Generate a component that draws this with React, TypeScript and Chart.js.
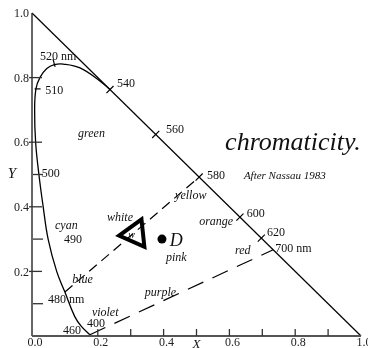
import { useEffect, useRef } from 'react';
import { Chart, registerables } from 'chart.js';
Chart.register(...registerables);

// Spectral locus, 400 nm -> 540 nm
const locusX = [0.176, 0.150, 0.130, 0.100, 0.075, 0.049, 0.034, 0.021, 0.011, 0.008, 0.012, 0.024, 0.045, 0.068, 0.095, 0.146, 0.207, 0.237];
const locusY = [0.004, 0.030, 0.060, 0.136, 0.200, 0.300, 0.400, 0.500, 0.600, 0.700, 0.765, 0.800, 0.828, 0.840, 0.842, 0.830, 0.789, 0.763];

const diagX = [0, 1];
const diagY = [1, 0];
const complementX = [0.100, 0.508];
const complementY = [0.136, 0.492];
const purpleX = [0.176, 0.733];
const purpleY = [0.004, 0.267];
const whitePoint = [0.313, 0.316];
const dPoint = [0.395, 0.300];

const xTicksMajor = [0.2, 0.4, 0.6, 0.8];
const xTicksMinor = [0.3, 0.5, 0.7, 0.9];
const xTickLabelValues = [0, 0.2, 0.4, 0.6, 0.8, 1.0];
const xTickLabels = ['0.0', '0.2', '0.4', '0.6', '0.8', '1.0'];
const yTicksMajor = [0.2, 0.4, 0.6, 0.8];
const yTicksMinor = [0.1, 0.3, 0.5];
const yTickLabelValues = [0.2, 0.4, 0.6, 0.8, 1.0];
const yTickLabels = ['0.2', '0.4', '0.6', '0.8', '1.0'];

// wavelength tick marks on the locus
const wlTickX = [0.067, 0.017, 0.237, 0.376, 0.508, 0.632, 0.697];
const wlTickY = [0.845, 0.765, 0.763, 0.624, 0.492, 0.368, 0.303];
const wlTickAngle = [75, 0, -45, -45, -45, -45, -45];
const wlTickLen = [8, 6, 10, 10, 10, 10, 10];

// wavelength labels
const wlLabels = ['520 nm', '540', '560', '580', '600', '620', '700 nm', '510', '500', '490', '480 nm', '460', '400'];
const wlLabelX = [0.024, 0.258, 0.407, 0.532, 0.653, 0.714, 0.739, 0.040, 0.030, 0.097, 0.049, 0.094, 0.167];
const wlLabelY = [0.864, 0.780, 0.638, 0.495, 0.378, 0.319, 0.269, 0.759, 0.502, 0.297, 0.111, 0.015, 0.037];

// colour name labels
const colorLabels = ['cyan', 'green', 'yellow', 'white', 'orange', 'pink', 'red', 'blue', 'purple', 'violet'];
const colorLabelX = [0.070, 0.140, 0.435, 0.228, 0.508, 0.407, 0.617, 0.122, 0.343, 0.182];
const colorLabelY = [0.341, 0.625, 0.433, 0.365, 0.353, 0.241, 0.263, 0.173, 0.133, 0.071];

const titleText = 'chromaticity.';
const titlePos = [0.587, 0.598];
const creditText = 'After Nassau 1983';
const creditPos = [0.644, 0.495];
const wLabelPos = [0.303, 0.312];
const dLabelPos = [0.419, 0.297];

const SERIF = '"Liberation Serif", "DejaVu Serif", serif';

function pts(xs: number[], ys: number[]) {
  return xs.map((x, i) => ({ x, y: ys[i] }));
}

const overlay = {
  id: 'overlay',
  afterDatasetsDraw(chart: any) {
    const ctx = chart.ctx as CanvasRenderingContext2D;
    const xs = chart.scales.x;
    const ys = chart.scales.y;
    const px = (v: number) => xs.getPixelForValue(v);
    const py = (v: number) => ys.getPixelForValue(v);
    ctx.save();
    // axes
    ctx.strokeStyle = '#333';
    ctx.lineWidth = 1.5;
    ctx.beginPath();
    ctx.moveTo(px(0), py(0));
    ctx.lineTo(px(0), py(1));
    ctx.stroke();
    ctx.strokeStyle = '#555';
    ctx.lineWidth = 2;
    ctx.beginPath();
    ctx.moveTo(px(0), py(0));
    ctx.lineTo(px(1), py(0));
    ctx.stroke();
    // x ticks
    ctx.strokeStyle = '#333';
    ctx.lineWidth = 1.3;
    [...xTicksMajor, ...xTicksMinor].forEach((v) => {
      ctx.beginPath();
      ctx.moveTo(px(v), py(0));
      ctx.lineTo(px(v), py(0) - 7);
      ctx.stroke();
    });
    yTicksMajor.forEach((v) => {
      ctx.beginPath();
      ctx.moveTo(px(0) - 3, py(v));
      ctx.lineTo(px(0) + 10, py(v));
      ctx.stroke();
    });
    yTicksMinor.forEach((v) => {
      ctx.beginPath();
      ctx.moveTo(px(0) + 1, py(v));
      ctx.lineTo(px(0) + 11, py(v));
      ctx.stroke();
    });
    // tick labels
    ctx.fillStyle = '#222';
    ctx.font = `12px ${SERIF}`;
    ctx.textBaseline = 'middle';
    ctx.textAlign = 'center';
    xTickLabelValues.forEach((v, i) => {
      ctx.fillText(xTickLabels[i], px(v) + 3, py(0) + 7);
    });
    ctx.textAlign = 'right';
    yTickLabelValues.forEach((v, i) => {
      ctx.fillText(yTickLabels[i], px(0) - 3, py(v) + 1);
    });
    // axis titles
    ctx.font = `italic 15px ${SERIF}`;
    ctx.textAlign = 'center';
    ctx.fillStyle = '#111';
    ctx.fillText('Y', 12, py(0.5));
    ctx.font = `italic 13px ${SERIF}`;
    ctx.fillText('X', px(0.5), py(0) + 9);
    // wavelength ticks
    ctx.strokeStyle = '#000';
    ctx.lineWidth = 1.2;
    wlTickX.forEach((v, i) => {
      const cx = px(v);
      const cy = py(wlTickY[i]);
      const a = (wlTickAngle[i] * Math.PI) / 180;
      const h = wlTickLen[i] / 2;
      ctx.beginPath();
      ctx.moveTo(cx - Math.cos(a) * h, cy - Math.sin(a) * h);
      ctx.lineTo(cx + Math.cos(a) * h, cy + Math.sin(a) * h);
      ctx.stroke();
    });
    // wavelength labels
    ctx.fillStyle = '#111';
    ctx.font = `12px ${SERIF}`;
    ctx.textAlign = 'left';
    wlLabels.forEach((t, i) => ctx.fillText(t, px(wlLabelX[i]), py(wlLabelY[i])));
    // colour names
    ctx.font = `italic 12px ${SERIF}`;
    colorLabels.forEach((t, i) => ctx.fillText(t, px(colorLabelX[i]), py(colorLabelY[i])));
    // W and D
    ctx.textAlign = 'center';
    ctx.font = `italic 10px ${SERIF}`;
    ctx.fillText('w', px(wLabelPos[0]), py(wLabelPos[1]));
    ctx.textAlign = 'left';
    ctx.font = `italic 18px ${SERIF}`;
    ctx.fillText('D', px(dLabelPos[0]), py(dLabelPos[1]) + 1);
    // title and credit
    ctx.font = `italic 26px ${SERIF}`;
    ctx.fillText(titleText, px(titlePos[0]), py(titlePos[1]));
    ctx.font = `italic 11px ${SERIF}`;
    ctx.fillText(creditText, px(creditPos[0]), py(creditPos[1]));
    ctx.restore();
  },
};

export default function App() {
  const ref = useRef<HTMLCanvasElement>(null);
  useEffect(() => {
    if (!ref.current) return;
    const chart = new Chart(ref.current, {
      type: 'scatter',
      data: {
        datasets: [
          {
            data: [{ x: whitePoint[0], y: whitePoint[1] }],
            pointStyle: 'triangle',
            rotation: 264,
            pointRadius: 16,
            borderWidth: 4,
            borderColor: '#000',
            backgroundColor: 'rgba(255,255,255,0)',
            order: 1,
          } as any,
          {
            data: [{ x: dPoint[0], y: dPoint[1] }],
            pointStyle: 'circle',
            pointRadius: 4.5,
            borderWidth: 0,
            backgroundColor: '#000',
            order: 2,
          },
          {
            data: pts(locusX, locusY),
            showLine: true,
            tension: 0.4,
            borderColor: '#000',
            borderWidth: 1.3,
            pointRadius: 0,
            order: 3,
          },
          {
            data: pts(diagX, diagY),
            showLine: true,
            borderColor: '#000',
            borderWidth: 1.2,
            pointRadius: 0,
            order: 4,
          },
          {
            data: pts(complementX, complementY),
            showLine: true,
            borderColor: '#000',
            borderWidth: 1.2,
            borderDash: [10, 6],
            pointRadius: 0,
            order: 5,
          },
          {
            data: pts(purpleX, purpleY),
            showLine: true,
            borderColor: '#000',
            borderWidth: 1.2,
            borderDash: [17, 10],
            pointRadius: 0,
            order: 6,
          },
        ],
      },
      options: {
        responsive: false,
        animation: false,
        clip: false as any,
        layout: { autoPadding: false, padding: { left: 32, right: 7, top: 13, bottom: 12 } } as any,
        plugins: { legend: { display: false }, tooltip: { enabled: false } },
        scales: {
          x: { type: 'linear', min: 0, max: 1, display: false },
          y: { type: 'linear', min: 0, max: 1, display: false },
        },
      },
      plugins: [overlay],
    });
    return () => chart.destroy();
  }, []);
  return (
    <div style={{ position: 'fixed', left: 0, top: 0, width: 368, height: 348, background: '#fff' }}>
      <canvas ref={ref} width={368} height={348} style={{ display: 'block' }} />
    </div>
  );
}
